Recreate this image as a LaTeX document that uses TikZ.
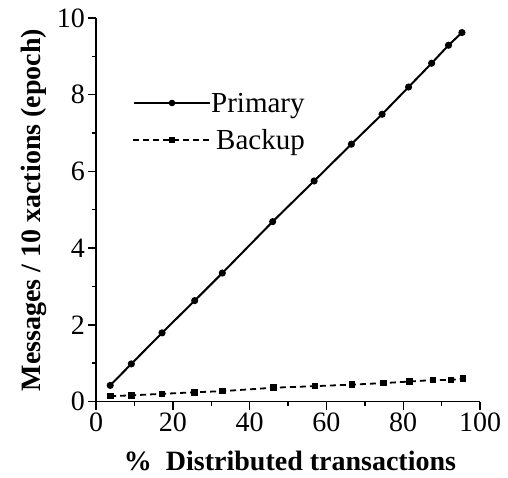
\documentclass[tikz,border=0pt]{standalone}
\usepackage{fontspec}
\setmainfont{Liberation Serif}
\begin{document}
\begin{tikzpicture}[x=1pt,y=1pt,
  lbl/.style={font=\fontsize{28}{30}\selectfont, inner sep=0pt},
  axl/.style={font=\fontsize{28}{30}\selectfont\bfseries, inner sep=0pt},
  prim/.style={line width=2pt},
  back/.style={line width=1.8pt, dash pattern=on 6pt off 4pt}]
\useasboundingbox (0,0) rectangle (508,477);
\begin{scope}[shift={(96,75.5)}, x=3.84pt, y=38.35pt]
  % axes
  \draw[line width=1.8pt] (0,10) -- (0,0) -- (100,0);
  \foreach \v in {0,2,4,6,8,10} {
    \draw[line width=1.4pt] (0,\v) -- ++(-8pt,0) coordinate (yt\v);
    \node[lbl, anchor=east] at ([xshift=-3pt]yt\v) {\v};
  }
  \foreach \v in {1,3,5,7,9}
    \draw[line width=1.4pt] (0,\v) -- ++(-4pt,0);
  \foreach \u in {0,20,40,60,80,100} {
    \draw[line width=1.4pt] (\u,0) -- ++(0,-8pt) coordinate (xt\u);
    \node[lbl, anchor=north] at ([yshift=-3pt]xt\u) {\u};
  }
  \foreach \u in {10,30,50,70,90}
    \draw[line width=1.4pt] (\u,0) -- ++(0,-4pt);
  % data
  \draw[prim] plot coordinates {(3.7,0.42) (9.2,0.98) (17.2,1.79) (25.7,2.63) (32.9,3.35) (46,4.69) (56.8,5.75) (66.5,6.71) (74.5,7.49) (81.4,8.2) (87.4,8.82) (91.8,9.29) (95.3,9.62)};
  \foreach \p in {(3.7,0.42),(9.2,0.98),(17.2,1.79),(25.7,2.63),(32.9,3.35),(46,4.69),(56.8,5.75),(66.5,6.71),(74.5,7.49),(81.4,8.2),(87.4,8.82),(91.8,9.29),(95.3,9.62)}
    \fill \p circle (3.6pt);
  \draw[back] plot coordinates {(3.7,0.14) (9.2,0.16) (17.2,0.2) (25.7,0.24) (32.9,0.27) (46.3,0.36) (57,0.4) (66.7,0.44) (74.8,0.48) (81.6,0.52) (87.8,0.56) (92.4,0.56) (95.6,0.6)};
  \foreach \p in {(3.7,0.14),(9.2,0.16),(17.2,0.2),(25.7,0.24),(32.9,0.27),(46.3,0.36),(57,0.4),(66.7,0.44),(74.8,0.48),(81.6,0.52),(87.8,0.56),(92.4,0.56),(95.6,0.6)}
    \fill \p ++(-3.3pt,-3.3pt) rectangle ++(6.6pt,6.6pt);
\end{scope}
% legend
\coordinate (pa) at (134,374);
\coordinate (pb) at (210,374);
\draw[prim] (pa) -- (pb);
\fill (172,374) circle (3.3pt);
\node[lbl, anchor=west, font=\fontsize{29}{31}\selectfont] (pt) at (211,371) {Primary};
\coordinate (ba) at (133,337);
\coordinate (bb) at (210,337);
\draw[back] (ba) -- (bb);
\fill (168.7,333.7) rectangle (175.3,340.3);
\node[lbl, anchor=west, font=\fontsize{29}{31}\selectfont] (bt) at (216,334) {Backup};
% axis labels
\node[axl, anchor=base] (xl) at (290,7) {\%~~Distributed transactions};
\node[axl, anchor=base, rotate=90] (yl) at (40,267) {Messages / 10 xactions (epoch)};
\end{tikzpicture}
\end{document}
